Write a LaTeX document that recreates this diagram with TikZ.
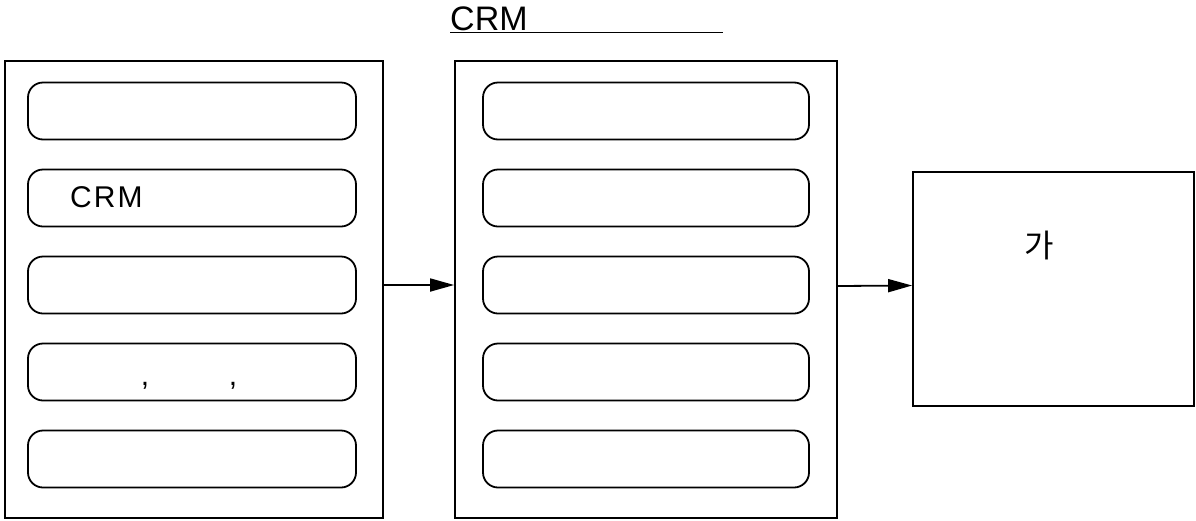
\documentclass[tikz,border=0pt]{standalone}
\usepackage{fontspec}
\setmainfont{Liberation Sans}
\newfontfamily\kofont{Noto Sans CJK KR}
\usetikzlibrary{arrows.meta}
\begin{document}
\begin{tikzpicture}[x=1pt,y=-1pt,
	panel/.style={draw,line width=1.8pt,inner sep=0pt},
	item/.style={draw,line width=1.8pt,rounded corners=15pt,minimum height=57pt,inner sep=0pt},
	link/.style={line width=1.8pt,-{Triangle[length=24pt,width=13pt]}},
	label/.style={font=\fontsize{30}{36}\selectfont,inner sep=0pt}]
	\useasboundingbox (0,0) rectangle (1196,520);
	% title
	\node[label,anchor=base west,font=\fontsize{34}{40}\selectfont] (title) at (450,30) {\underline{CRM\hspace{195pt}}};
	% frames
	\node[panel,minimum width=378pt,minimum height=457pt] (left) at (194,289.5) {};
	\node[panel,minimum width=382pt,minimum height=457pt] (mid) at (646,289.5) {};
	\node[panel,minimum width=281pt,minimum height=234pt] (right) at (1053.5,289) {};
	% rows
	\foreach \i [evaluate=\i as \y using 111+87*(\i-1)] in {1,...,5} {
		\node[item,minimum width=328pt] (l\i) at (192,\y) {};
		\node[item,minimum width=326pt] (m\i) at (646,\y) {};
	}
	\node[label,anchor=west] (crm) at (70,197) {C\hspace{2pt}R\hspace{2pt}M};
	\node[label,anchor=base] (c1) at (145,385) {,};
	\node[label,anchor=base] (c2) at (233,385) {,};
	\node[label,font=\kofont\fontsize{32}{38}\selectfont] (ga) at (1039,245) {가};
	% arrows
	\draw[link] ([yshift=4.5pt]left.east) -- ([yshift=4.5pt]mid.west);
	\draw[link] ([yshift=3.5pt]mid.east) -- ([yshift=3.5pt]right.west);
\end{tikzpicture}
\end{document}
